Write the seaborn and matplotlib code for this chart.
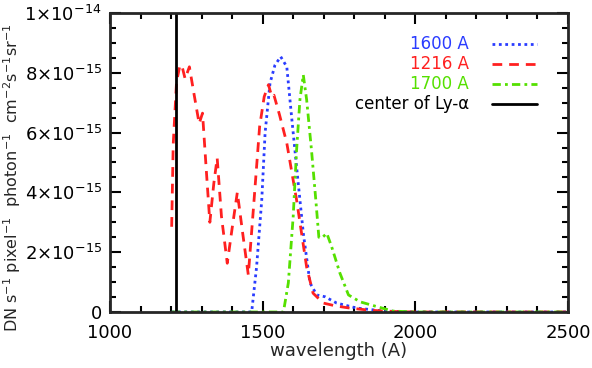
import matplotlib
matplotlib.use("Agg")
import matplotlib.pyplot as plt
import seaborn as sns
import pandas as pd
from matplotlib.ticker import MultipleLocator

# data (values in units of 1e-15)
wl_1216 = [1202, 1207, 1218, 1228, 1235, 1246, 1260, 1275, 1292, 1303, 1315, 1327,
           1340, 1351, 1365, 1384, 1400, 1417, 1435, 1453, 1470, 1490, 1505, 1519,
           1530, 1537, 1555, 1579, 1611, 1644, 1665, 1698, 1740, 1786, 1850, 1900,
           1950, 2000, 2500]
val_1216 = [2.85, 5.6, 7.7, 8.2, 8.26, 7.8, 8.2, 7.3, 6.3, 6.65, 4.8, 3.0,
            4.3, 5.15, 3.2, 1.63, 2.8, 4.0, 2.6, 1.24, 3.5, 6.2, 7.2, 7.6,
            7.2, 7.25, 6.6, 5.65, 3.75, 1.5, 0.63, 0.3, 0.2, 0.13, 0.06, 0.03,
            0.01, 0.0, 0.0]

wl_1600 = [1202, 1464, 1480, 1497, 1508, 1524, 1540, 1559, 1579, 1595, 1611, 1633,
           1655, 1677, 1704, 1742, 1808, 1900, 2000, 2500]
val_1600 = [0.0, 0.0, 1.5, 3.75, 6.0, 7.65, 8.25, 8.54, 8.2, 6.5, 4.86, 2.64,
            0.97, 0.57, 0.51, 0.3, 0.13, 0.03, 0.0, 0.0]

wl_1700 = [1202, 1568, 1584, 1600, 1611, 1622, 1633, 1644, 1660, 1674, 1684, 1693,
           1710, 1726, 1753, 1781, 1819, 1874, 1927, 2000, 2500]
val_1700 = [0.0, 0.0, 0.97, 3.2, 5.4, 7.1, 7.93, 7.1, 5.4, 3.75, 2.5, 2.47,
            2.63, 2.18, 1.3, 0.57, 0.34, 0.18, 0.03, 0.0, 0.0]

ly_center = 1216

ytick_vals = [0, 2e-15, 4e-15, 6e-15, 8e-15, 1e-14]
ytick_labels = ["0", r"2×10$^{-15}$", r"4×10$^{-15}$", r"6×10$^{-15}$",
                r"8×10$^{-15}$", r"1×10$^{-14}$"]
xtick_vals = [1000, 1500, 2000, 2500]

sns.set_style("ticks")
plt.rcParams["font.family"] = ["DejaVu Sans"]
plt.rcParams["mathtext.fontset"] = "dejavusans"

fig = plt.figure(figsize=(5.92, 3.68), dpi=100)
ax = fig.add_axes([0.1858, 0.1522, 0.7737, 0.8125])

series = [
    ("1600 A", wl_1600, val_1600, "#2a3cff", (0, (1, 1.3))),
    ("1216 A", wl_1216, val_1216, "#ff2020", (0, (3.5, 2.5))),
    ("1700 A", wl_1700, val_1700, "#55e000", (0, (3, 1.5, 1, 1.5))),
]
for name, wl, vals, col, ls in series:
    df = pd.DataFrame({"wl": wl, "flux": [v * 1e-15 for v in vals]})
    sns.lineplot(data=df, x="wl", y="flux", ax=ax, color=col, lw=2,
                 linestyle=ls, label=name, estimator=None)

ax.axvline(ly_center, color="black", lw=2, label="center of Ly-α")

ax.set_xlim(1000, 2500)
ax.set_ylim(0, 1e-14)
ax.set_xticks(xtick_vals)
ax.xaxis.set_minor_locator(MultipleLocator(100))
ax.set_yticks(ytick_vals)
ax.set_yticklabels(ytick_labels)
ax.yaxis.set_minor_locator(MultipleLocator(5e-16))
ax.tick_params(which="both", direction="in", top=True, right=True,
               labelsize=13, width=1.5, colors="black")
ax.tick_params(which="major", length=8)
ax.tick_params(axis="y", which="major", pad=6)
ax.tick_params(axis="x", which="major", pad=9)
ax.tick_params(which="minor", length=4)
for sp in ax.spines.values():
    sp.set_linewidth(2)

ax.set_xlabel("wavelength (A)", fontsize=13, labelpad=0)
ax.set_ylabel(r"DN s$^{-1}$ pixel$^{-1}$  photon$^{-1}$  cm$^{-2}$s$^{-1}$sr$^{-1}$",
              fontsize=11.5)
ax.yaxis.set_label_coords(-0.19, 0.448)

leg = ax.legend(loc="upper right", frameon=False, markerfirst=False,
                labelcolor="linecolor", fontsize=12, handlelength=2.7,
                handletextpad=1.4, labelspacing=0.12,
                bbox_to_anchor=(0.966, 0.975))

fig.savefig("out.png", dpi=100)
